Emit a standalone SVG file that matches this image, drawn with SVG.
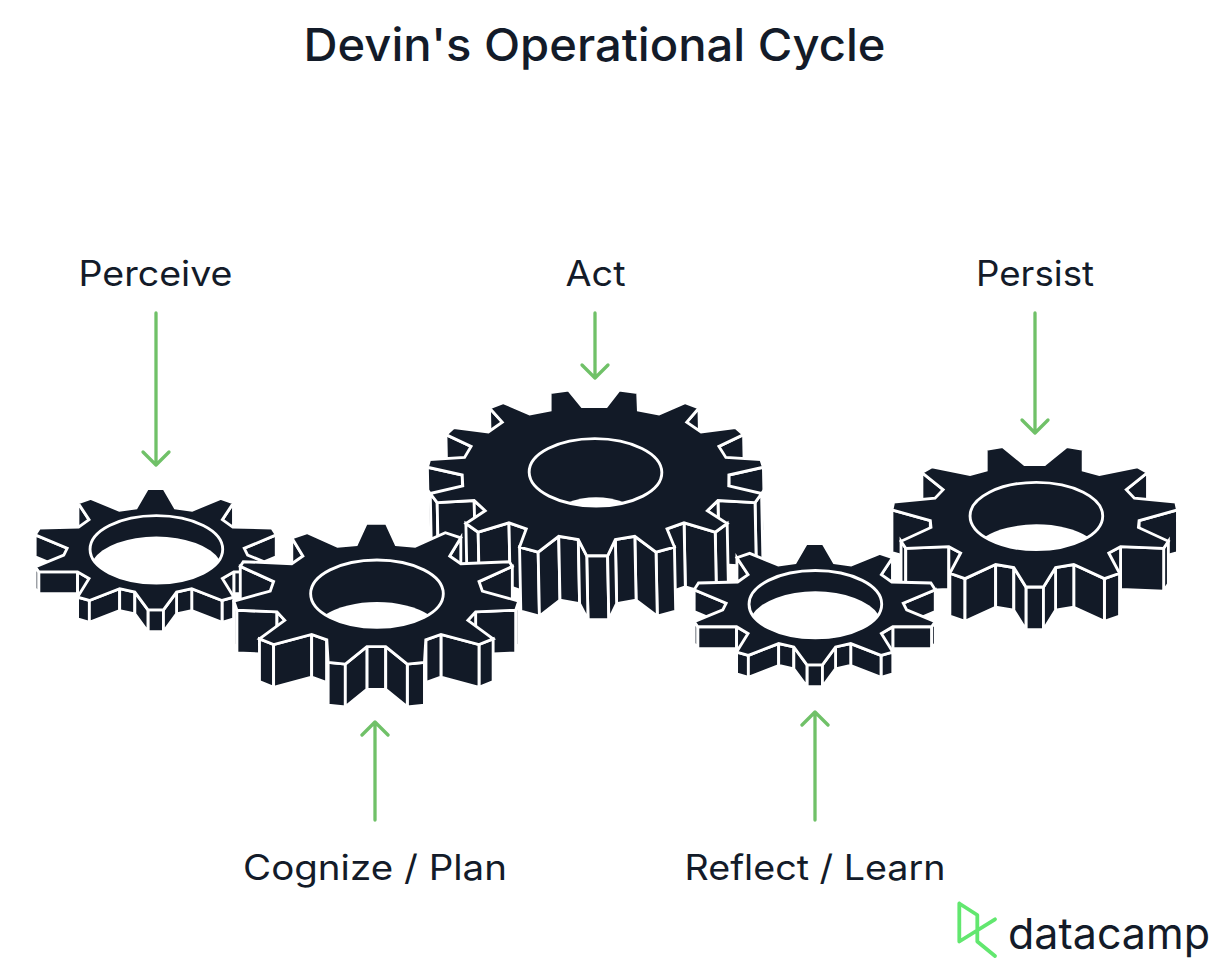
<svg xmlns="http://www.w3.org/2000/svg" width="1216" height="968" viewBox="0 0 1216 968">
<style>
text{font-family:"Inter","Noto Sans","Liberation Sans",sans-serif;fill:#131b29}
.t{font-size:45px;font-weight:500}
.l{font-size:35px;font-weight:400}
.w,.f{fill:#121a27;stroke:#fff;stroke-width:8.500;stroke-linejoin:miter}
.h{fill:none;stroke:#fff;stroke-width:8.500}
.n{fill:#fff}
.a{fill:none;stroke:#70c168;stroke-width:3.300;stroke-linecap:round;stroke-linejoin:round}
</style>
<defs>
<g id="sw">
<path class="w" d="M231-138L198-88V-23L231-73z"/>
<path class="w" d="M358-43L263-3V62L358 22z"/>
<path class="w" d="M358 52L347 67V132L358 117z"/>
<path class="w" d="M347 67H232V132H347z"/>
<path class="w" d="M232 67L198 87V152L232 132z"/>
<path class="w" d="M232 142L197 152V217L232 207z"/>
<path class="w" d="M197 152L107 117V182L197 217z"/>
<path class="w" d="M107 117L62 127V192L107 182z"/>
<path class="w" d="M62 127L23 180V245L62 192z"/>
</g>
<g id="mw">
<path class="w" d="M251-166L218-112V15L251-39z"/>
<path class="w" d="M404-81L305-36V91L404 46z"/>
<path class="w" d="M423 22L414 49V176L423 149z"/>
<path class="w" d="M414 49L295 54V181L414 176z"/>
<path class="w" d="M295 54L272 79V206L295 181z"/>
<path class="w" d="M347 134L305 151V278L347 261z"/>
<path class="w" d="M305 151L192 121V248L305 278z"/>
<path class="w" d="M192 121L147 137V264L192 248z"/>
<path class="w" d="M147 137L143 204V331L147 264z"/>
<path class="w" d="M143 204L92 209V336L143 331z"/>
<path class="w" d="M92 209L28 157V284L92 336z"/>
</g>
<g id="lw">
<path class="w" d="M311-191L274-149V41L311-1z"/>
<path class="w" d="M442-112L368-77V113L442 78z"/>
<path class="w" d="M499-15L396 8V198L499 175z"/>
<path class="w" d="M492 63L472 90V280L492 253z"/>
<path class="w" d="M472 90L362 84V274L472 280z"/>
<path class="w" d="M362 84L330 114V304L362 274z"/>
<path class="w" d="M388 152L352 178V368L388 342z"/>
<path class="w" d="M352 178L260 150V340L352 368z"/>
<path class="w" d="M260 150L209 168V358L260 340z"/>
<path class="w" d="M230 222L175 237V427L230 412z"/>
<path class="w" d="M175 237L113 190V380L175 427z"/>
<path class="w" d="M113 190L55 200V390L113 380z"/>
<path class="w" d="M55 200L31 248V438L55 390z"/>
</g>
<g id="pw">
<path class="w" d="M335-129L272-78V49L335-2z"/>
<path class="w" d="M424-18L310 14V141L424 109z"/>
<path class="w" d="M397 75L383 96V223L397 202z"/>
<path class="w" d="M383 96L255 91V218L383 223z"/>
<path class="w" d="M255 91L220 110V237L255 218z"/>
<path class="w" d="M252 170L207 186V313L252 297z"/>
<path class="w" d="M207 186L116 144V271L207 313z"/>
<path class="w" d="M116 144L62 153V280L116 271z"/>
<path class="w" d="M62 153L26 211V338L62 280z"/>
</g>
<g id="small">
<path class="w" d="M23 180H-23V245H23z"/>
<use href="#sw"/><use href="#sw" transform="scale(-1 1)"/>
<polygon class="f" points="25,-180 58,-123 108,-116 193,-151 231,-138 198,-88 229,-66 345,-63 358,-43 263,-3 273,17 358,52 347,67 232,67 198,87 232,142 197,152 107,117 62,127 23,180 -23,180 -62,127 -107,117 -197,152 -232,142 -198,87 -232,67 -347,67 -358,52 -273,17 -263,-3 -358,-43 -345,-63 -229,-66 -198,-88 -231,-138 -193,-151 -108,-116 -58,-123 -25,-180"/>
<path class="n" transform="translate(2 0)" d="M-188 32A197 100 0 0 1 188 32A197 100 0 0 1-188 32z"/>
<ellipse class="h" cx="2" cy="0" rx="197" ry="100"/>
</g>
</defs>

<g id="title"><text class="t" x="594.500" y="61" text-anchor="middle" textLength="582" lengthAdjust="spacingAndGlyphs">Devin's Operational Cycle</text></g>

<g id="gear-perceive" transform="translate(155.700 549.300) scale(.3367)"><use href="#small"/></g>

<g id="gear-act" transform="matrix(.3367 0 .0067 .3367 595.500 472.300)">
<path class="w" d="M31 248H-31V438H31z"/>
<use href="#lw"/><use href="#lw" transform="scale(-1 1)"/>
<polygon class="f" points="36,-195 75,-244 130,-237 131,-185 192,-173 270,-207 311,-191 274,-149 316,-120 418,-133 442,-112 368,-77 388,-44 492,-38 499,-15 396,8 395,40 492,63 472,90 362,84 330,114 388,152 352,178 260,150 209,168 230,222 175,237 113,190 55,200 31,248 -31,248 -55,200 -113,190 -175,237 -230,222 -209,168 -260,150 -352,178 -388,152 -330,114 -362,84 -472,90 -492,63 -395,40 -396,8 -499,-15 -492,-38 -388,-44 -368,-77 -442,-112 -418,-133 -316,-120 -274,-149 -311,-191 -270,-207 -192,-173 -131,-185 -130,-237 -75,-244 -36,-195"/>
<path class="n" d="M-85 90Q0 58 85 90A197 100 0 0 1-85 90z"/>
<ellipse class="h" cx="0" cy="0" rx="197" ry="100"/>
</g>

<g id="gear-persist" transform="translate(1034.700 516) scale(.3367)">
<path class="w" d="M26 211H-26V338H26z"/>
<use href="#pw"/><use href="#pw" transform="scale(-1 1)"/>
<polygon class="f" points="30,-153 95,-206 144,-198 144,-136 192,-123 305,-146 335,-129 272,-78 296,-53 419,-41 424,-18 310,14 308,34 397,75 383,96 255,91 220,110 252,170 207,186 116,144 62,153 26,211 -26,211 -62,153 -116,144 -207,186 -252,170 -220,110 -255,91 -383,96 -397,75 -308,34 -310,14 -424,-18 -419,-41 -296,-53 -272,-78 -335,-129 -305,-146 -192,-123 -144,-136 -144,-198 -95,-206 -30,-153"/>
<path class="n" transform="translate(5 0)" d="M-155 63A197 100 0 0 1 155 63A197 100 0 0 1-155 63z"/>
<ellipse class="h" cx="5" cy="0" rx="197" ry="100"/>
</g>

<g id="gear-cognize" transform="translate(376.300 593.700) scale(.3367)">
<path class="w" d="M28 157H-28V284H28z"/>
<use href="#mw"/><use href="#mw" transform="scale(-1 1)"/>
<polygon class="f" points="30,-209 59,-146 115,-141 205,-181 251,-166 218,-112 251,-89 395,-95 404,-81 305,-36 315,-8 423,22 414,49 295,54 272,79 347,134 305,151 192,121 147,137 143,204 92,209 28,157 -28,157 -92,209 -143,204 -147,137 -192,121 -305,151 -347,134 -272,79 -295,54 -414,49 -423,22 -315,-8 -305,-36 -404,-81 -395,-95 -251,-89 -218,-112 -251,-166 -205,-181 -115,-141 -59,-146 -30,-209"/>
<path class="n" transform="translate(2 0)" d="M-155 63A197 100 0 0 1 155 63A197 100 0 0 1-155 63z"/>
<ellipse class="h" cx="2" cy="0" rx="197" ry="100"/>
</g>

<g id="gear-reflect" transform="translate(814.700 604.200) scale(.3367)"><use href="#small"/></g>

<g id="connectors">
<path class="a" d="M156 313V465M143 452L156 465L169 452"/>
<path class="a" d="M595 313V378M582 365L595 378L608 365"/>
<path class="a" d="M1035 313V433M1022 420L1035 433L1048 420"/>
<path class="a" d="M375 820V722M362 735L375 722L388 735"/>
<path class="a" d="M815 820V712M802 725L815 712L828 725"/>
</g>

<g id="label-perceive"><text class="l" x="155.500" y="286" text-anchor="middle" textLength="154" lengthAdjust="spacingAndGlyphs">Perceive</text></g>
<g id="label-act"><text class="l" x="595.500" y="286" text-anchor="middle" textLength="60" lengthAdjust="spacingAndGlyphs">Act</text></g>
<g id="label-persist"><text class="l" x="1035" y="286" text-anchor="middle" textLength="118" lengthAdjust="spacingAndGlyphs">Persist</text></g>
<g id="label-cognize"><text class="l" x="375" y="880" text-anchor="middle" textLength="264" lengthAdjust="spacingAndGlyphs">Cognize / Plan</text></g>
<g id="label-reflect"><text class="l" x="815" y="880" text-anchor="middle" textLength="261" lengthAdjust="spacingAndGlyphs">Reflect / Learn</text></g>

<g id="logo">
<path d="M959.300 903.500V941.500L995 919.300M959.300 903.500L977.300 915V941.500L995 956" fill="none" stroke="#62e76f" stroke-width="3.800" stroke-linejoin="round" stroke-linecap="round"/>
<text x="1008" y="949" font-size="43" font-weight="400" textLength="202" lengthAdjust="spacingAndGlyphs">datacamp</text>
</g>
</svg>
